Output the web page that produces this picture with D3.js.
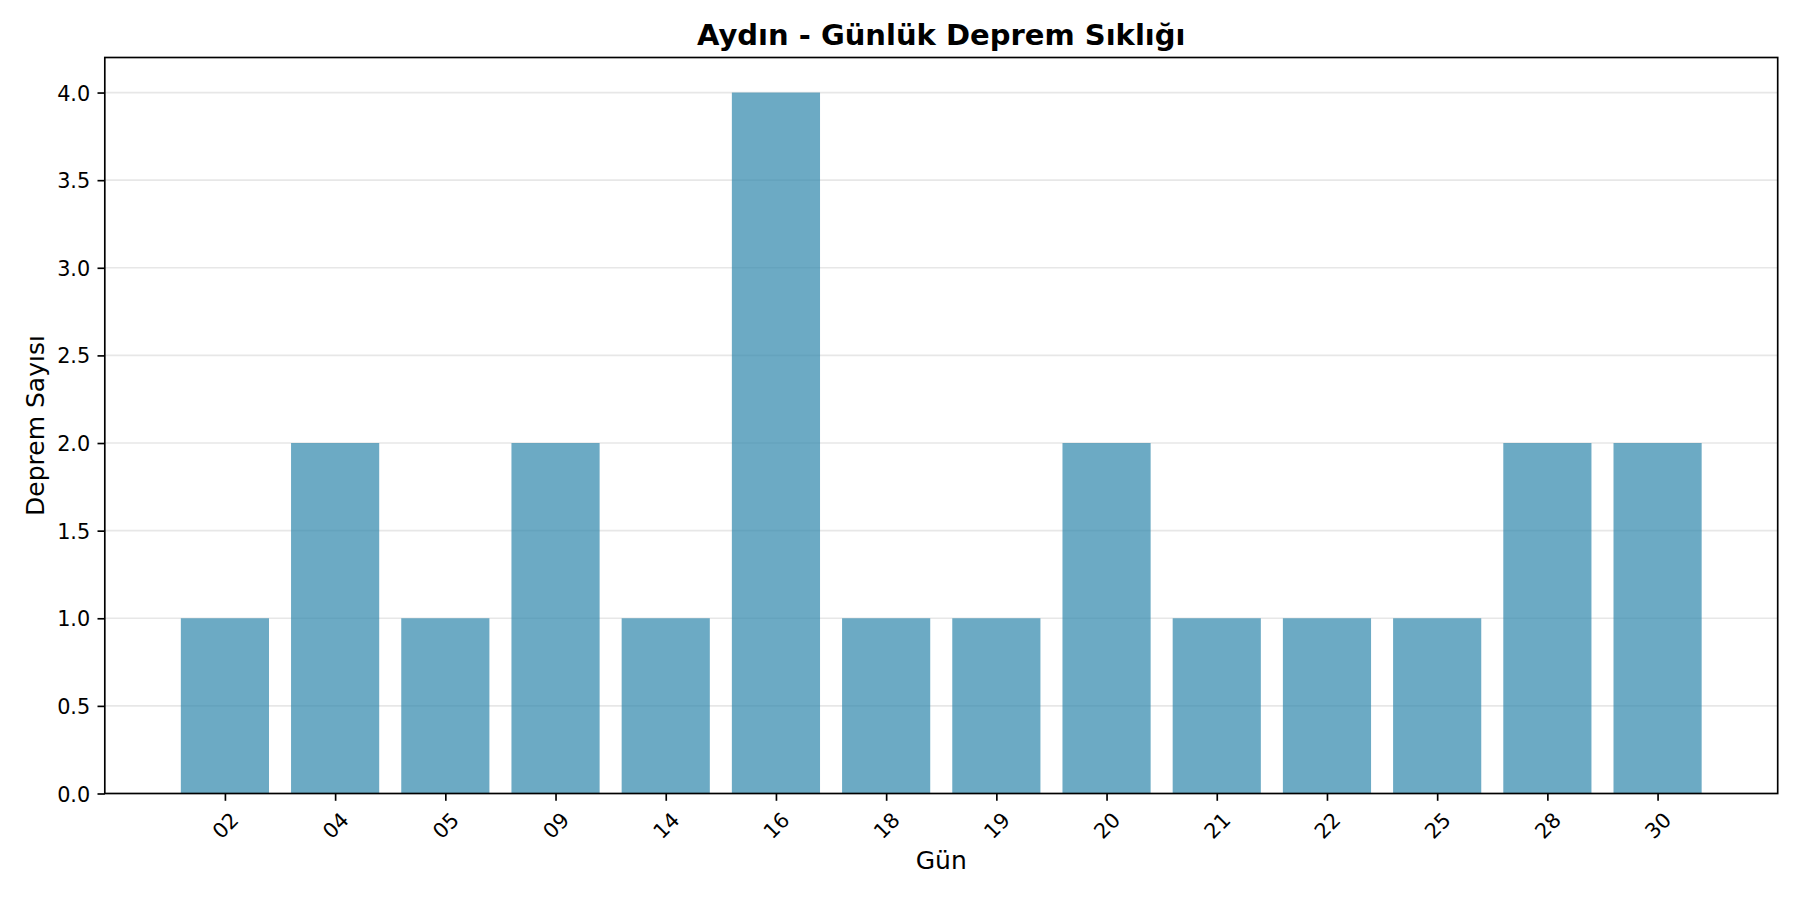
<!DOCTYPE html>
<html>
<head>
<meta charset="utf-8">
<script src="https://cdn.jsdelivr.net/npm/d3@7"></script>
<style>
  body { margin: 0; background: #fff; }
  text { font-family: "DejaVu Sans", sans-serif; fill: #000; }
</style>
</head>
<body>
<div id="chart"></div>
<script>
// data
var days = ["02", "04", "05", "09", "14", "16", "18", "19", "20", "21", "22", "25", "28", "30"]
var counts = [1, 2, 1, 2, 1, 4, 1, 1, 2, 1, 1, 1, 2, 2]
var yTicks = [0, 0.5, 1, 1.5, 2, 2.5, 3, 3.5, 4]

var W = 1800, H = 900
var margin = {top: 57.5, right: 22.3, bottom: 106.5, left: 104.8}
var width = W - margin.left - margin.right,
    height = H - margin.top - margin.bottom

var svg = d3.select("#chart")
  .append("svg")
  .attr("width", W)
  .attr("height", H)

var g = svg.append("g")
  .attr("transform", "translate(" + margin.left + "," + margin.top + ")")

// matplotlib-like limits: bars 0.8 wide, 5% margins
var barW = 0.8
var span = (days.length - 1) + barW
var x = d3.scaleLinear()
  .domain([-barW / 2 - 0.05 * span, days.length - 1 + barW / 2 + 0.05 * span])
  .range([0, width])

var y = d3.scaleLinear()
  .domain([0, 4.2])
  .range([height, 0])

// grid
g.append("g")
  .selectAll("line")
  .data(yTicks)
  .enter().append("line")
    .attr("x1", 0)
    .attr("x2", width)
    .attr("y1", function(d) { return y(d) })
    .attr("y2", function(d) { return y(d) })
    .style("stroke", "#b0b0b0")
    .style("stroke-opacity", 0.3)
    .style("stroke-width", 1.67)

// bars
g.append("g")
  .selectAll("rect")
  .data(counts)
  .enter().append("rect")
    .attr("x", function(d, i) { return x(i - barW / 2) })
    .attr("width", function() { return x(barW) - x(0) })
    .attr("y", function(d) { return y(d) })
    .attr("height", function(d) { return y(0) - y(d) })
    .style("fill", "#2E86AB")
    .style("fill-opacity", 0.7)

// y axis
var yAxis = g.append("g")
  .call(d3.axisLeft(y).tickValues(yTicks).tickFormat(d3.format(".1f")).tickSize(7.3).tickPadding(7.3))
yAxis.select(".domain").remove()
yAxis.selectAll("line").style("stroke", "#000").style("stroke-width", 1.67)
yAxis.selectAll("text")
  .style("font-size", "20.8px")
  .attr("dy", "0.36em")

// x axis
var xAxis = g.append("g")
  .attr("transform", "translate(0," + height + ")")
  .call(d3.axisBottom(x).tickValues(d3.range(days.length)).tickFormat(function(i) { return days[i] }).tickSize(7.3))
xAxis.select(".domain").remove()
xAxis.selectAll("line").style("stroke", "#000").style("stroke-width", 1.67)
xAxis.selectAll("text")
  .style("font-size", "20.8px")
  .style("text-anchor", "middle")
  .attr("y", 0)
  .attr("dy", "0.35em")
  .attr("transform", "translate(0,32) rotate(-45)")

// frame
g.append("rect")
  .attr("width", width)
  .attr("height", height)
  .style("fill", "none")
  .style("stroke", "#000")
  .style("stroke-width", 1.67)

// title and labels
svg.append("text")
  .attr("x", margin.left + width / 2)
  .attr("y", 45.3)
  .style("text-anchor", "middle")
  .style("font-size", "29px")
  .style("font-weight", "bold")
  .text("Aydın - Günlük Deprem Sıklığı")

svg.append("text")
  .attr("x", margin.left + width / 2)
  .attr("y", 868.7)
  .style("text-anchor", "middle")
  .style("font-size", "25px")
  .text("Gün")

svg.append("text")
  .attr("transform", "translate(43.7," + (margin.top + height / 2) + ") rotate(-90)")
  .style("text-anchor", "middle")
  .style("font-size", "25px")
  .text("Deprem Sayısı")
</script>
</body>
</html>
